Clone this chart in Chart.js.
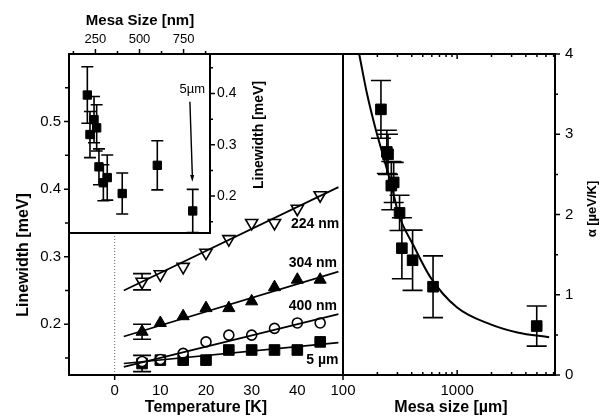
<!DOCTYPE html>
<html><head><meta charset="utf-8">
<script src="https://cdn.jsdelivr.net/npm/chart.js@4.4.1/dist/chart.umd.min.js"></script>
<style>
html,body{margin:0;padding:0;background:#fff;}
#wrap{position:relative;width:600px;height:417px;}
canvas{position:absolute;left:0;top:0;}
</style></head><body>
<div id="wrap">
<canvas id="main" width="600" height="417"></canvas>
<canvas id="right" width="600" height="417"></canvas>
<canvas id="inset" width="600" height="417"></canvas>
</div>
<script>
const FONT = "'Liberation Sans', Arial, Helvetica, sans-serif";

// ---------- Left panel: linewidth vs temperature ----------
const tempK   = [6, 10, 15, 20, 25, 30, 35, 40, 45];
const lw224   = [0.263, 0.274, 0.285, 0.306, 0.326, 0.350, 0.350, 0.371, 0.391];
const lw304   = [0.189, 0.202, 0.212, 0.224, 0.224, 0.234, 0.255, 0.266, 0.266];
const lw400   = [0.145, 0.148, 0.157, 0.174, 0.184, 0.184, 0.194, 0.202, 0.202];
const lw5um   = [0.142, 0.147, 0.147, 0.147, 0.162, 0.162, 0.162, 0.162, 0.174];
const err224  = [0.012, 0, 0, 0, 0, 0, 0, 0, 0];
const err304  = [0.011, 0, 0, 0, 0, 0, 0, 0, 0];
const err5um  = [0.012, 0, 0, 0, 0, 0, 0, 0, 0];
const fitT    = [2, 49];
const fit224  = [0.250, 0.403];
const fit304  = [0.182, 0.278];
const fit400  = [0.137, 0.215];
const fit5um  = [0.142, 0.173];
const seriesNames = ['224 nm', '304 nm', '400 nm', '5 \u00b5m'];
const seriesLabelPos = [[43.9, 0.348], [43.4, 0.291], [43.4, 0.227], [45.5, 0.147]];
const zeroLineY = [0.125, 0.6];
const tempRange = [-10, 50];
const lwRange   = [0.125, 0.6];
const tempTickLabels = [0, 10, 20, 30, 40];
const lwTickLabels   = [0.2, 0.3, 0.4, 0.5];
const lwMinorTicks   = [0.15, 0.25, 0.35, 0.45, 0.55];

// ---------- Inset: linewidth vs mesa size ----------
const insetSize = [204, 219, 242, 257, 270, 295, 317, 402, 601, 802];
const insetLw   = [0.397, 0.320, 0.349, 0.333, 0.257, 0.226, 0.236, 0.205, 0.260, 0.171];
const insetErr  = [0.055, 0.045, 0.045, 0.045, 0.035, 0.035, 0.044, 0.040, 0.048, 0.042];
const insetSizeRange = [100, 900];
const insetLwRange   = [0.128, 0.477];
const insetSizeTicks = [250, 500, 750];
const insetSizeMinor = [125, 375, 625, 875];
const insetLwTicks   = [0.2, 0.3, 0.4];
const insetLwMinor   = [0.15, 0.25, 0.35, 0.45];
const arrowFrom = [786, 0.384];
const arrowTo   = [800, 0.228];
const arrowLabelPos = [800, 0.408];

// ---------- Right panel: alpha vs mesa size ----------
const alphaSize = [215, 242, 248, 265, 278, 313, 328, 407, 615, 4980];
const alphaVal  = [3.31, 2.78, 2.75, 2.36, 2.40, 2.02, 1.58, 1.43, 1.10, 0.61];
const alphaErr  = [0.36, 0.27, 0.25, 0.30, 0.25, 0.22, 0.38, 0.375, 0.385, 0.25];
const fitSize   = [139, 162, 191, 226, 268, 306, 416, 582, 1000, 1963, 3373, 6400];
const fitAlpha  = [3.99, 3.51, 3.09, 2.72, 2.34, 2.01, 1.61, 1.22, 0.84, 0.63, 0.53, 0.47];
const sizeRange  = [100, 7200];
const alphaRange = [0, 4];
const sizeTickLabels = [100, 1000];
const sizeMinor = [200, 300, 400, 500, 600, 700, 800, 900, 2000, 3000, 4000, 5000, 6000, 7000];
const alphaTickLabels = [0, 1, 2, 3, 4];
const alphaMinor = [0.5, 1.5, 2.5, 3.5];

// ---------- helpers ----------
const pts = (xs, ys) => xs.map((x, i) => ({x: x, y: ys[i]}));
const fixSize = n => s => { if (s.isHorizontal()) s.height = n; else s.width = n; };
const setTicks = vals => s => { s.ticks = vals.map(v => ({value: v})); };

function axis(size, extra) {
  return Object.assign({
    afterFit: fixSize(size),
    grid: {display: false, drawTicks: false},
    border: {display: false}
  }, extra);
}
function tickOpts(size, pad, cb) {
  return {color: '#000', font: {family: FONT, size: size}, padding: pad,
          autoSkip: false, maxRotation: 0, minRotation: 0, callback: cb};
}
function tickMarks(ctx, scale, vals, edge, len, lw) {
  ctx.beginPath();
  vals.forEach(v => {
    const p = scale.getPixelForValue(v);
    if (scale.isHorizontal()) { ctx.moveTo(p, edge); ctx.lineTo(p, edge + len); }
    else { ctx.moveTo(edge, p); ctx.lineTo(edge + len, p); }
  });
  ctx.lineWidth = lw || 1.5;
  ctx.strokeStyle = '#000';
  ctx.stroke();
}
function drawErrorBars(chart, cap) {
  const ctx = chart.ctx;
  chart.data.datasets.forEach((ds, i) => {
    if (!ds.errY) return;
    const meta = chart.getDatasetMeta(i);
    const ys = chart.scales[meta.yAxisID];
    ctx.save();
    ctx.strokeStyle = '#000'; ctx.lineWidth = 1.6;
    meta.data.forEach((pt, j) => {
      const e = ds.errY[j]; if (!e) return;
      const v = ds.data[j].y;
      const t = ys.getPixelForValue(v + e), b = ys.getPixelForValue(v - e);
      ctx.beginPath();
      ctx.moveTo(pt.x, t); ctx.lineTo(pt.x, b);
      ctx.moveTo(pt.x - cap, t); ctx.lineTo(pt.x + cap, t);
      ctx.moveTo(pt.x - cap, b); ctx.lineTo(pt.x + cap, b);
      ctx.stroke();
    });
    ctx.restore();
  });
}
function text(ctx, str, x, y, font, rot, align) {
  ctx.save();
  ctx.translate(x, y);
  if (rot) ctx.rotate(rot);
  ctx.font = font;
  ctx.fillStyle = '#000';
  ctx.textAlign = align || 'center';
  ctx.textBaseline = 'middle';
  ctx.fillText(str, 0, 0);
  ctx.restore();
}
function frame(ctx, a, lw) {
  ctx.save();
  ctx.strokeStyle = '#000'; ctx.lineWidth = lw;
  ctx.strokeRect(a.left, a.top, a.right - a.left, a.bottom - a.top);
  ctx.restore();
}
const fitLine = (xs, ys) => ({data: pts(xs, ys), showLine: true, pointRadius: 0,
  borderColor: '#000', borderWidth: 1.7, fill: false});
const fmt1 = v => v.toFixed(1);

const common = {responsive: false, animation: false, events: [],
  plugins: {legend: {display: false}, tooltip: {enabled: false}}};

// ---------- main (left) chart ----------
new Chart(document.getElementById('main'), {
  type: 'scatter',
  data: {datasets: [
    {data: pts([0, 0], zeroLineY), showLine: true, pointRadius: 0, borderColor: '#666',
     borderWidth: 1, borderDash: [1, 2]},
    fitLine(fitT, fit224), fitLine(fitT, fit304), fitLine(fitT, fit400), fitLine(fitT, fit5um),
    {data: pts(tempK, lw224), errY: err224, pointStyle: 'triangle', rotation: 180, pointRadius: 7,
     backgroundColor: '#fff', borderColor: '#000', borderWidth: 1.6},
    {data: pts(tempK, lw304), errY: err304, pointStyle: 'triangle', pointRadius: 7,
     backgroundColor: '#000', borderColor: '#000', borderWidth: 1},
    {data: pts(tempK, lw400), pointStyle: 'circle', pointRadius: 5,
     backgroundColor: '#fff', borderColor: '#000', borderWidth: 1.6},
    {data: pts(tempK, lw5um), errY: err5um, pointStyle: 'rect', pointRadius: 7.5,
     backgroundColor: '#000', borderColor: '#000', borderWidth: 1}
  ]},
  options: Object.assign({}, common, {
    layout: {padding: {left: 0, right: 257, top: 54, bottom: 0}},
    scales: {
      x: axis(42, {type: 'linear', position: 'bottom', min: tempRange[0], max: tempRange[1],
        afterBuildTicks: setTicks(tempTickLabels),
        ticks: tickOpts(15, 7, v => String(v))}),
      y: axis(69, {type: 'linear', position: 'left', min: lwRange[0], max: lwRange[1],
        afterBuildTicks: setTicks(lwTickLabels),
        ticks: tickOpts(15, 8, fmt1)})
    }
  }),
  plugins: [{
    id: 'mainDeco',
    beforeDatasetsDraw(chart) { drawErrorBars(chart, 9); },
    afterDraw(chart) {
      const {ctx, chartArea: a, scales: {x, y}} = chart;
      frame(ctx, a, 2);
      tickMarks(ctx, y, lwTickLabels, a.left, -5);
      tickMarks(ctx, y, lwMinorTicks, a.left, -4);
      tickMarks(ctx, x, [0], a.bottom, 5);
      seriesNames.forEach((n, i) => {
        text(ctx, n, x.getPixelForValue(seriesLabelPos[i][0]), y.getPixelForValue(seriesLabelPos[i][1]),
             'bold 14px ' + FONT);
      });
      text(ctx, 'Linewidth [meV]', 24, 255, 'bold 16px ' + FONT, -Math.PI / 2);
      text(ctx, 'Temperature [K]', 206, 408, 'bold 16px ' + FONT);
    }
  }]
});

// ---------- right chart ----------
new Chart(document.getElementById('right'), {
  type: 'scatter',
  data: {datasets: [
    {data: pts(fitSize, fitAlpha), showLine: true, pointRadius: 0, borderColor: '#000',
     borderWidth: 2, cubicInterpolationMode: 'monotone', fill: false},
    {data: pts(alphaSize, alphaVal), errY: alphaErr, pointStyle: 'rect', pointRadius: 7.5,
     backgroundColor: '#000', borderColor: '#000', borderWidth: 1}
  ]},
  options: Object.assign({}, common, {
    layout: {padding: {left: 343, right: 0, top: 54, bottom: 0}},
    scales: {
      x: axis(42, {type: 'logarithmic', position: 'bottom', min: sizeRange[0], max: sizeRange[1],
        afterBuildTicks: setTicks(sizeTickLabels),
        ticks: tickOpts(15, 7, v => String(v))}),
      y: axis(45, {type: 'linear', position: 'right', min: alphaRange[0], max: alphaRange[1],
        afterBuildTicks: setTicks(alphaTickLabels),
        ticks: tickOpts(15, 10, v => String(v))})
    }
  }),
  plugins: [{
    id: 'rightDeco',
    beforeDatasetsDraw(chart) { drawErrorBars(chart, 10); },
    afterDraw(chart) {
      const {ctx, chartArea: a, scales: {x, y}} = chart;
      frame(ctx, a, 2);
      tickMarks(ctx, x, sizeMinor, a.bottom, -3);
      tickMarks(ctx, x, [1000], a.bottom, -5);
      tickMarks(ctx, x, [100], a.bottom, 5);
      tickMarks(ctx, x, sizeMinor, a.top, 3);
      tickMarks(ctx, x, [1000], a.top, 5);
      tickMarks(ctx, y, alphaTickLabels, a.right, 5);
      tickMarks(ctx, y, alphaMinor, a.right, 3);
      text(ctx, 'Mesa size [\u00b5m]', 451, 408, 'bold 16px ' + FONT);
      text(ctx, '\u03b1 [\u00b5eV/K]', 592, 209, 'bold 13px ' + FONT, -Math.PI / 2);
    }
  }]
});

// ---------- inset chart ----------
new Chart(document.getElementById('inset'), {
  type: 'scatter',
  data: {datasets: [
    {data: pts(insetSize, insetLw), errY: insetErr, pointStyle: 'rect', pointRadius: 5.9,
     backgroundColor: '#000', borderColor: '#000', borderWidth: 1}
  ]},
  options: Object.assign({}, common, {
    layout: {padding: {left: 69, right: 330, top: 0, bottom: 184}},
    scales: {
      x: axis(54, {type: 'linear', position: 'top', min: insetSizeRange[0], max: insetSizeRange[1],
        afterBuildTicks: setTicks(insetSizeTicks),
        ticks: tickOpts(13, 7, v => String(v))}),
      y: axis(60, {type: 'linear', position: 'right', min: insetLwRange[0], max: insetLwRange[1],
        afterBuildTicks: setTicks(insetLwTicks),
        ticks: tickOpts(14, 7, fmt1)})
    }
  }),
  plugins: [{
    id: 'insetDeco',
    beforeDraw(chart) {
      const {ctx, chartArea: a} = chart;
      ctx.save(); ctx.fillStyle = '#fff';
      ctx.fillRect(a.left, a.top, a.right - a.left, a.bottom - a.top);
      ctx.restore();
    },
    beforeDatasetsDraw(chart) { drawErrorBars(chart, 6); },
    afterDraw(chart) {
      const {ctx, chartArea: a, scales: {x, y}} = chart;
      frame(ctx, a, 2);
      tickMarks(ctx, x, insetSizeTicks, a.top, -5);
      tickMarks(ctx, x, insetSizeMinor, a.top, -3);
      tickMarks(ctx, y, insetLwTicks, a.right, 5);
      tickMarks(ctx, y, insetLwMinor, a.right, 3);
      const x0 = x.getPixelForValue(arrowFrom[0]), y0 = y.getPixelForValue(arrowFrom[1]);
      const x1 = x.getPixelForValue(arrowTo[0]), y1 = y.getPixelForValue(arrowTo[1]);
      ctx.save();
      ctx.strokeStyle = '#000'; ctx.fillStyle = '#000'; ctx.lineWidth = 1.4;
      ctx.beginPath(); ctx.moveTo(x0, y0); ctx.lineTo(x1, y1 - 5); ctx.stroke();
      const ang = Math.atan2(y1 - y0, x1 - x0);
      ctx.beginPath();
      ctx.moveTo(x1, y1);
      ctx.lineTo(x1 - 7 * Math.cos(ang - 0.3), y1 - 7 * Math.sin(ang - 0.3));
      ctx.lineTo(x1 - 7 * Math.cos(ang + 0.3), y1 - 7 * Math.sin(ang + 0.3));
      ctx.closePath(); ctx.fill();
      ctx.restore();
      text(ctx, '5\u00b5m', x.getPixelForValue(arrowLabelPos[0]), y.getPixelForValue(arrowLabelPos[1]),
           '13px ' + FONT);
      text(ctx, 'Mesa Size [nm]', 140, 21, 'bold 15px ' + FONT);
      text(ctx, 'Linewidth [meV]', 259, 135, 'bold 14px ' + FONT, -Math.PI / 2);
    }
  }]
});
</script>
</body></html>
